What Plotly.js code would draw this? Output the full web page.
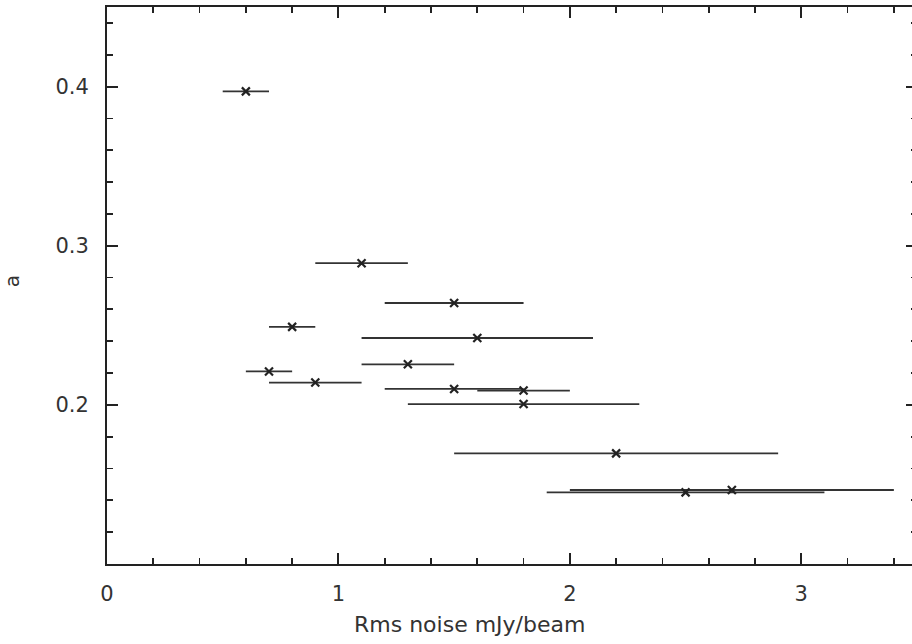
<!DOCTYPE html>
<html>
<head>
<meta charset="utf-8">
<script src="https://cdn.plot.ly/plotly-3.0.1.min.js"></script>
<style>
html, body { margin: 0; padding: 0; overflow: hidden; background: #fff; }
#chart { width: 917px; height: 644px; }
</style>
</head>
<body>
<div id="chart"></div>
<script>
// Rms noise (mJy/beam) for each field
var rmsNoise = [0.6, 1.1, 1.5, 0.8, 1.6, 1.3, 0.7, 0.9, 1.5, 1.8, 1.8, 2.2, 2.5, 2.7];
// spectral index a
var alphaVals = [0.397, 0.289, 0.264, 0.249, 0.242, 0.2255, 0.221, 0.214, 0.210, 0.209, 0.2005, 0.1695, 0.145, 0.1465];
// half-range of rms noise (horizontal error bar)
var rmsErr = [0.1, 0.2, 0.3, 0.1, 0.5, 0.2, 0.1, 0.2, 0.3, 0.2, 0.5, 0.7, 0.6, 0.7];

var xTickVals = [0, 1, 2, 3];
var xTickText = ['0', '1', '2', '3'];
var yTickVals = [0.2, 0.3, 0.4];
var yTickText = ['0.2', '0.3', '0.4'];

var ink = '#222';
var fontFam = 'DejaVu Sans, sans-serif';

var trace = {
  type: 'scatter',
  mode: 'markers',
  x: rmsNoise,
  y: alphaVals,
  marker: { symbol: 'x-thin', size: 8, color: ink, line: { width: 2.2, color: ink } },
  error_x: { type: 'data', array: rmsErr, symmetric: true, width: 0, thickness: 1.8, color: '#333' },
  hoverinfo: 'x+y'
};

var layout = {
  width: 917,
  height: 644,
  margin: { l: 107, r: 0, t: 7, b: 80 },
  paper_bgcolor: '#fff',
  plot_bgcolor: '#fff',
  showlegend: false,
  font: { family: fontFam, color: '#333', size: 21 },
  xaxis: {
    range: [0, 3.5],
    tickvals: xTickVals,
    ticktext: xTickText,
    showgrid: false,
    zeroline: false,
    showline: true,
    linewidth: 2,
    linecolor: ink,
    mirror: 'allticks',
    ticks: 'inside',
    ticklen: 11,
    tickwidth: 2,
    tickcolor: ink,
    ticklabelstandoff: 10,
    tickfont: { family: fontFam, size: 21, color: '#333' },
    minor: { dtick: 0.2, tick0: 0, ticks: 'inside', ticklen: 6, tickwidth: 1.8, tickcolor: ink, showgrid: false }
  },
  yaxis: {
    range: [0.1, 0.45],
    tickvals: yTickVals,
    ticktext: yTickText,
    showgrid: false,
    zeroline: false,
    showline: true,
    linewidth: 2,
    linecolor: ink,
    mirror: 'allticks',
    ticks: 'inside',
    ticklen: 11,
    tickwidth: 2,
    tickcolor: ink,
    ticklabelstandoff: 12,
    tickfont: { family: fontFam, size: 21, color: '#333' },
    minor: { dtick: 0.02, tick0: 0.1, ticks: 'inside', ticklen: 6, tickwidth: 1.8, tickcolor: ink, showgrid: false }
  },
  annotations: [
    {
      text: 'Rms noise mJy/beam',
      xref: 'paper', yref: 'paper',
      x: 0.448, y: -0.109,
      xanchor: 'center', yanchor: 'middle',
      showarrow: false,
      font: { family: fontFam, size: 22, color: '#333' }
    },
    {
      text: 'a',
      xref: 'paper', yref: 'paper',
      x: -0.117, y: 0.508,
      xanchor: 'center', yanchor: 'middle',
      textangle: -90,
      showarrow: false,
      font: { family: fontFam, size: 20, color: '#333' }
    }
  ]
};

Plotly.newPlot('chart', [trace], layout, { staticPlot: true, displayModeBar: false });
</script>
</body>
</html>
